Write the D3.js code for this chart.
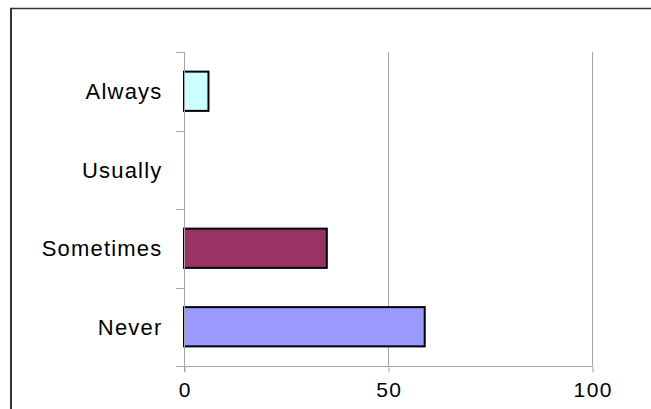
<!DOCTYPE html>
<html><head><meta charset="utf-8">
<script src="https://cdn.jsdelivr.net/npm/d3@7"></script>
<style>body{margin:0;background:#fff}svg{display:block}</style>
</head><body>
<script>
const categories = ["Always", "Usually", "Sometimes", "Never"];
const values = [6, 0, 35, 59];
const colors = ["#CCFFFF", "#FFFFFF", "#993366", "#9999FF"];
const xTicks = [0, 50, 100];

const W = 651, H = 409;
const svg = d3.select("body").append("svg").attr("width", W).attr("height", H);
svg.append("rect").attr("width", W).attr("height", H).attr("fill", "#fff");

// outer frame
svg.append("line").attr("x1", 10).attr("x2", W).attr("y1", 8.5).attr("y2", 8.5).attr("stroke", "#333").attr("stroke-width", 1.5);
svg.append("line").attr("x1", 11).attr("x2", 11).attr("y1", 8).attr("y2", H).attr("stroke", "#333").attr("stroke-width", 2);

const x = d3.scaleLinear().domain([0, 100]).range([184, 592]);
const y = d3.scaleBand().domain(categories).range([52, 366]).paddingInner(0.5).paddingOuter(0.25);

// gridlines
svg.append("g").selectAll("line").data(xTicks.filter(d => d > 0)).join("line")
  .attr("x1", d => x(d) + 0.5).attr("x2", d => x(d) + 0.5)
  .attr("y1", 52).attr("y2", 366)
  .attr("stroke", "#a6a6a6").attr("stroke-width", 1);

// bars
svg.append("g").selectAll("rect").data(categories).join("rect")
  .attr("x", x(0))
  .attr("y", d => y(d))
  .attr("width", (d, i) => x(values[i]) - x(0))
  .attr("height", y.bandwidth())
  .attr("fill", (d, i) => colors[i])
  .attr("stroke", (d, i) => values[i] > 0 ? "#000" : "none")
  .attr("stroke-width", 2);

// y axis
const yTickPos = d3.range(categories.length + 1).map(i => 52 + i * (366 - 52) / categories.length);
svg.append("line").attr("x1", 184.5).attr("x2", 184.5).attr("y1", 52).attr("y2", 372).attr("stroke", "#a6a6a6");
svg.append("g").selectAll("line").data(yTickPos).join("line")
  .attr("x1", 176).attr("x2", 184).attr("y1", d => Math.round(d) + 0.5).attr("y2", d => Math.round(d) + 0.5)
  .attr("stroke", "#a6a6a6");

// x axis
const xAxis = d3.axisBottom(x).tickValues(xTicks).tickSize(6).tickPadding(10).tickFormat(d3.format("d"));
const gx = svg.append("g").attr("transform", "translate(0,366.5)").call(xAxis);
gx.select(".domain").attr("stroke", "#a6a6a6").attr("d", "M176,0H" + (x(100) + 0.5));
gx.selectAll(".tick line").attr("stroke", "#a6a6a6").attr("transform", "translate(0.5,0)");
gx.selectAll(".tick text").attr("font-family", "Liberation Sans, Arial, sans-serif").attr("font-size", 21)
  .attr("fill", "#000").attr("dy", "0.71em").attr("dx", "0.7px").attr("letter-spacing", "1.4px");

// category labels
svg.append("g").selectAll("text").data(categories).join("text")
  .attr("x", 162.5).attr("y", d => y(d) + y.bandwidth() / 2)
  .attr("dy", "0.36em").attr("text-anchor", "end")
  .attr("font-family", "Liberation Sans, Arial, sans-serif").attr("font-size", 22).attr("fill", "#000")
  .attr("letter-spacing", "1.2px")
  .text(d => d);
</script>
</body></html>
